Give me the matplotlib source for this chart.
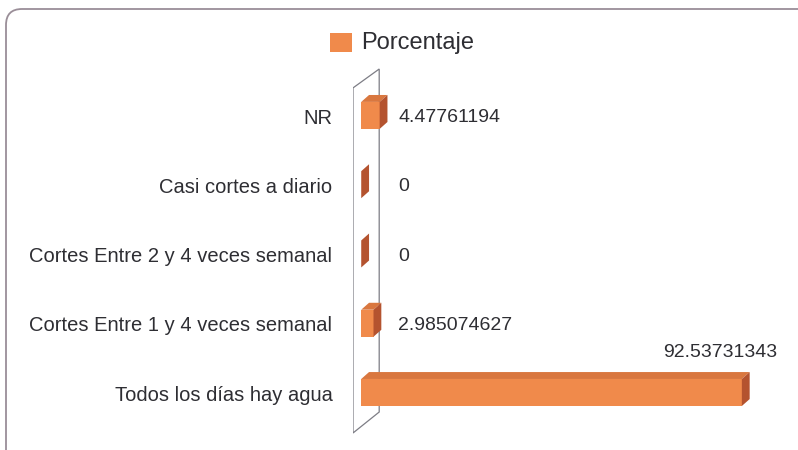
import matplotlib
matplotlib.use("Agg")
import matplotlib.pyplot as plt
from matplotlib.patches import Rectangle, Polygon, FancyBboxPatch

plt.rcParams['font.family'] = ['Liberation Sans', 'DejaVu Sans']

# data, top to bottom as in the picture
categories = ['NR', 'Casi cortes a diario', 'Cortes Entre 2 y 4 veces semanal',
              'Cortes Entre 1 y 4 veces semanal', 'Todos los días hay agua']
values = [4.47761194, 0, 0, 2.985074627, 92.53731343]
value_labels = ['4.47761194', '0', '0', '2.985074627', '92.53731343']
series_name = 'Porcentaje'

front_col = '#F08A4B'
top_col = '#D9773F'
side_col = '#B4532F'
text_col = '#2e2e33'

fig = plt.figure(figsize=(7.98, 4.5), dpi=100)
fig.patch.set_facecolor('white')

# rounded frame (runs off the bottom/right of the scan)
frame = FancyBboxPatch((6, -30), 820, 471, boxstyle="round,pad=0,rounding_size=16",
                       transform=None, fill=False, edgecolor='#9a8e98', linewidth=1.3)
fig.add_artist(frame)

ax = fig.add_axes([353 / 798, 10 / 450, 436 / 798, 380 / 450])
ax.set_xlim(-2, 104)
ax.set_ylim(-0.686, 4.80)
ax.axis('off')

n = len(categories)
ypos = [n - 1 - i for i in range(n)]
h = 0.39    # bar thickness
dx = 1.9    # depth in x units
dy = 0.10   # depth in y units

# back wall
wall = Polygon([(-2, -0.585), (-2, 4.397), (4.37, 4.67), (4.37, -0.282)], closed=True,
               facecolor='white', edgecolor='#7d7d85', linewidth=0.9, zorder=1)
ax.add_patch(wall)

for y, v in zip(ypos, values):
    y0, y1 = y - h / 2, y + h / 2
    ax.add_patch(Rectangle((0, y0), v, h, facecolor=front_col, edgecolor='none', zorder=3))
    ax.add_patch(Polygon([(0, y1), (v, y1), (v + dx, y1 + dy), (dx, y1 + dy)],
                         facecolor=top_col, edgecolor='none', zorder=3))
    ax.add_patch(Polygon([(v, y0), (v + dx, y0 + dy), (v + dx, y1 + dy), (v, y1)],
                         facecolor=side_col, edgecolor='none', zorder=3))

for y, v, lab in zip(ypos, values, value_labels):
    if v > 50:
        ax.text(v + 8.5, y + 0.58, lab, ha='right', va='center', fontsize=14, color=text_col)
    else:
        ax.text(9.0, y - 0.03, lab, ha='left', va='center', fontsize=14, color=text_col)

for y, cat in zip(ypos, categories):
    ax.text(-7.0, y - 0.04, cat, ha='right', va='center', fontsize=14.5, color=text_col,
            clip_on=False)

# legend
fig.add_artist(Rectangle((330 / 798, 1 - 52 / 450), 22 / 798, 19 / 450,
                         transform=fig.transFigure, facecolor=front_col, edgecolor='none'))
fig.text(361 / 798, 1 - 43 / 450, series_name, ha='left', va='center', fontsize=17,
         color=text_col)

fig.savefig('out.png', dpi=100, facecolor='white')
